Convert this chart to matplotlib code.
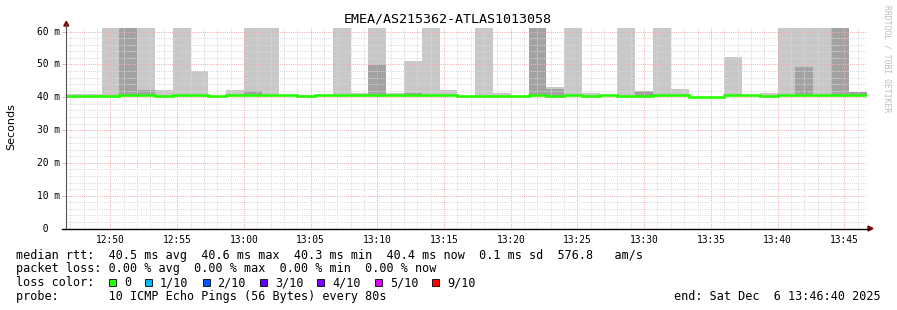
import numpy as np
import matplotlib
matplotlib.use("Agg")
import matplotlib.pyplot as plt
from matplotlib.patches import Rectangle, Polygon
from matplotlib.lines import Line2D
import matplotlib.transforms as mtransforms

W, H = 897, 310
MONO = "DejaVu Sans Mono"

# --- data ---
title = "EMEA/AS215362-ATLAS1013058"
start_min = 46 + 40 / 60      # 12:46:40, minutes after 12:00
step_min = 80 / 60            # one probe every 80 s

median = [40.4, 40.4, 40.4, 40.8, 40.6, 40.4, 40.7, 40.6, 40.3, 40.6,
          40.6, 40.6, 40.7, 40.3, 40.7, 40.7, 40.7, 40.7, 40.6, 40.7,
          40.7, 40.7, 40.5, 40.5, 40.5, 40.3, 40.6, 40.3, 40.6, 40.4,
          40.8, 40.3, 40.4, 40.6, 40.7, 40.2, 40.2, 40.7, 40.7, 40.4,
          40.6, 40.6, 40.6, 40.6, 40.6]
# top of the outer (light) smoke, 0 = no smoke visible, 62 = off the top
light_top = [41.0, 41.0, 62, 62, 62, 42.2, 62, 48.0, 0, 42.2,
             62, 62, 0, 40.8, 0, 62, 41.3, 62, 41.4, 51.0,
             62, 42.2, 0, 62, 41.4, 0, 62, 43.2, 62, 41.2,
             0, 62, 42.0, 62, 42.5, 0, 0, 52.3, 0, 41.2,
             62, 62, 62, 62, 41.5]
# top of the inner (dark) smoke
dark_top = [0, 0, 0, 62, 42.2, 0, 0, 0, 0, 0,
            41.9, 0, 0, 0, 0, 0, 0, 49.9, 0, 41.4,
            0, 0, 0, 0, 0, 0, 62, 42.5, 0, 0,
            0, 0, 42.0, 0, 0, 0, 0, 0, 0, 0,
            0, 49.2, 0, 62, 41.5]

x_ticks = list(range(50, 106, 5))
x_labels = ["12:50", "12:55", "13:00", "13:05", "13:10", "13:15",
            "13:20", "13:25", "13:30", "13:35", "13:40", "13:45"]
y_ticks = [0, 10, 20, 30, 40, 50, 60]
y_labels = [" 0", "10 m", "20 m", "30 m", "40 m", "50 m", "60 m"]

legend_lines = [
    "median rtt:  40.5 ms avg  40.6 ms max  40.3 ms min  40.4 ms now  0.1 ms sd  576.8   am/s",
    "packet loss: 0.00 % avg  0.00 % max  0.00 % min  0.00 % now",
    "loss color:",
    "probe:       10 ICMP Echo Pings (56 Bytes) every 80s",
]
loss_labels = ["0", "1/10", "2/10", "3/10", "4/10", "5/10", "9/10"]
loss_colors = ["#26ff00", "#00b8ff", "#0059ff", "#5e00ff", "#7e00ff", "#dd00ff", "#ff0000"]
end_text = "end: Sat Dec  6 13:46:40 2025"


def fx(px):
    return px / W


def fy(py):
    return 1 - py / H


fig = plt.figure(figsize=(W / 100, H / 100), dpi=100)
fig.patch.set_facecolor("white")

left, right, top, bottom = 66.0, 866.5, 28.4, 228.5
ax = fig.add_axes([fx(left), fy(bottom), (right - left) / W, (bottom - top) / H])

n = len(median)
edges = start_min + step_min * np.arange(n + 1)
med = np.array(median)
lt = np.array(light_top, dtype=float)
dt = np.array(dark_top, dtype=float)

m = lt > med
ax.bar(edges[:-1][m], (lt - med)[m], bottom=med[m], width=step_min, align="edge",
       color="#c8c8c8", linewidth=0, zorder=1)
m = dt > med
ax.bar(edges[:-1][m], (dt - med)[m], bottom=med[m], width=step_min, align="edge",
       color="#a2a2a2", linewidth=0, zorder=1.1)

ax.stairs(med, edges, baseline=None, color="#26ff00", linewidth=1.9, zorder=3)

ax.set_xlim(edges[0], edges[-1])
ax.set_ylim(0, 61.0)

ax.set_xticks(x_ticks)
ax.set_xticklabels(x_labels, fontfamily=MONO, fontsize=6.9)
ax.set_xticks(np.arange(47, 107, 1), minor=True)
ax.set_yticks(y_ticks)
ax.set_yticklabels([])
ax.set_yticks(np.arange(0, 61, 2), minor=True)
ax.tick_params(axis="x", which="both", length=0, pad=4.5)
ax.tick_params(axis="y", which="major", length=3, color="#f2abab", width=0.7)
ax.tick_params(axis="y", which="minor", length=0)

ax.set_axisbelow(False)
ax.grid(which="minor", color="#d9d9d9", linestyle=(0, (1, 1.2)), linewidth=0.72)
ax.grid(which="major", color="#f2abab", linestyle=(0, (1, 1.2)), linewidth=0.72)

for s in ax.spines.values():
    s.set_visible(False)

# y tick labels, left aligned like rrdtool's fixed width labels
trans = mtransforms.blended_transform_factory(fig.transFigure, ax.transData)
for v, lab in zip(y_ticks, y_labels):
    ax.text(fx(36.7), v, lab, transform=trans, ha="left", va="center",
            fontfamily=MONO, fontsize=6.9, color="black")

# axes lines and arrows
fig.add_artist(Line2D([fx(66), fx(66)], [fy(bottom), fy(24)], color="#555555", linewidth=0.8))
fig.add_artist(Line2D([fx(62), fx(869)], [fy(bottom), fy(bottom)], color="black", linewidth=1.0))
fig.add_artist(Polygon([(fx(63.8), fy(26)), (fx(68.8), fy(26)), (fx(66.3), fy(21.3))],
                       closed=True, color="#8b0000", transform=fig.transFigure))
fig.add_artist(Polygon([(fx(868), fy(226)), (fx(868), fy(231)), (fx(873), fy(228.5))],
                       closed=True, color="#8b0000", transform=fig.transFigure))

fig.text(fx(448), fy(19), title, ha="center", va="center", fontfamily=MONO, fontsize=9.6)
fig.text(fx(11), fy(126.5), "Seconds", rotation=90, ha="center", va="center",
         fontfamily="DejaVu Sans", fontsize=8)
fig.text(fx(887), fy(59), "RRDTOOL / TOBI OETIKER", rotation=270, ha="center", va="center",
         fontfamily=MONO, fontsize=5.8, color="#bdbdbd")

# legend block
line_y = [255, 268.5, 282.5, 296.5]
for y, txt in zip(line_y, legend_lines):
    fig.text(fx(16), fy(y), txt, ha="left", va="center", fontfamily=MONO, fontsize=8.5)

cw = 7.1
x = 109.0
for lab, col in zip(loss_labels, loss_colors):
    fig.add_artist(Rectangle((fx(x), fy(286.4)), 7.0 / W, 7.0 / H, facecolor=col,
                             edgecolor="black", linewidth=0.6, transform=fig.transFigure))
    fig.text(fx(x + 15), fy(282.5), lab, ha="left", va="center", fontfamily=MONO, fontsize=8.5)
    x += 15 + len(lab) * cw + 14

fig.text(fx(881), fy(296.5), end_text, ha="right", va="center", fontfamily=MONO, fontsize=8.5)

fig.savefig("out.png", dpi=100, facecolor="white")
